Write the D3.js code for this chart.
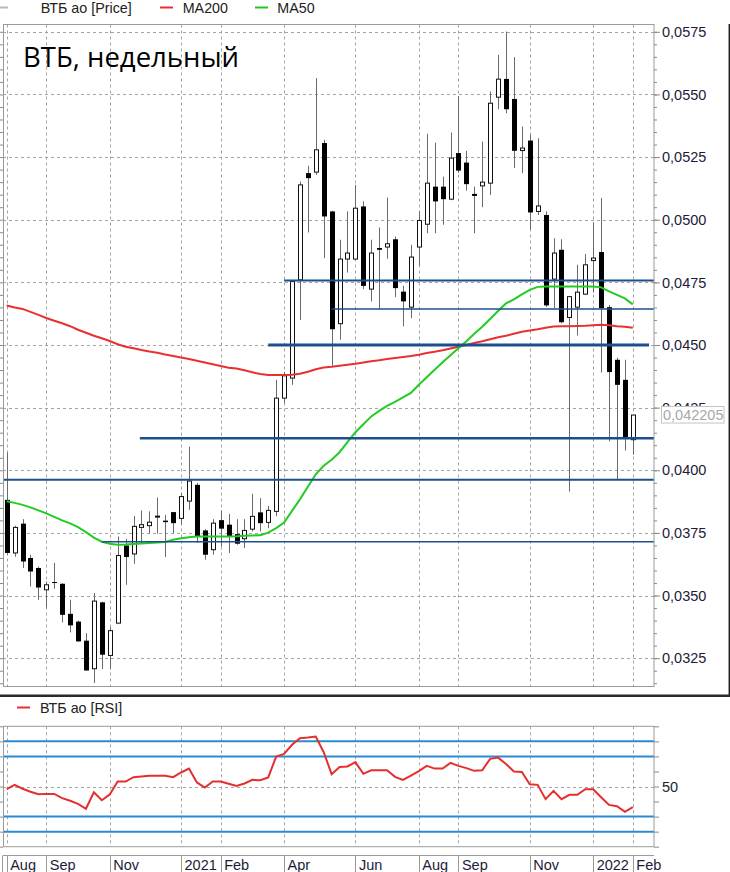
<!DOCTYPE html>
<html>
<head>
<meta charset="utf-8">
<script src="https://cdn.jsdelivr.net/npm/d3@7"></script>
<style>
  html, body { margin: 0; padding: 0; background: #fff; overflow: hidden; }
  svg { display: block; font-family: "Liberation Sans", Arial, sans-serif; }
</style>
</head>
<body>
<script>
// weekly candles, Aug 2020 .. Feb 2022
const opens = [
  0.03882, 0.03670, 0.03787, 0.03650, 0.03610, 0.03523, 0.03554, 0.03547, 0.03427, 0.03396,
  0.03320, 0.03208, 0.03473, 0.03261, 0.03390, 0.03700, 0.03666, 0.03772, 0.03779, 0.03814,
  0.03799, 0.03833, 0.03808, 0.03877, 0.03942, 0.03760, 0.03683, 0.03801, 0.03783, 0.03745,
  0.03727, 0.03765, 0.03832, 0.03792, 0.03836, 0.04288, 0.04368, 0.04760, 0.05186, 0.05190,
  0.05306, 0.05033, 0.04585, 0.04843, 0.04843, 0.05053, 0.04723, 0.04887, 0.04891, 0.04922,
  0.04713, 0.04651, 0.04891, 0.04982, 0.05132, 0.05132, 0.05082, 0.05266, 0.05228, 0.05103,
  0.05135, 0.05146, 0.05489, 0.05562, 0.05482, 0.05276, 0.05316, 0.05033, 0.05019, 0.04763,
  0.04880, 0.04610, 0.04651, 0.04703, 0.04837, 0.04871, 0.04651, 0.04441, 0.04361, 0.04122
];
const highs = [
  0.04071, 0.03779, 0.03805, 0.03663, 0.03616, 0.03556, 0.03630, 0.03549, 0.03483, 0.03400,
  0.03350, 0.03510, 0.03475, 0.03374, 0.03736, 0.03727, 0.03818, 0.03840, 0.03836, 0.03891,
  0.03822, 0.03834, 0.03909, 0.04094, 0.03949, 0.03765, 0.03805, 0.03840, 0.03826, 0.03805,
  0.03805, 0.03906, 0.03889, 0.03858, 0.04361, 0.04393, 0.04756, 0.05152, 0.05215, 0.05565,
  0.05319, 0.05036, 0.04920, 0.05033, 0.05139, 0.05073, 0.04920, 0.04969, 0.05088, 0.04933,
  0.04736, 0.04900, 0.05033, 0.05343, 0.05308, 0.05172, 0.05348, 0.05494, 0.05275, 0.05132,
  0.05312, 0.05511, 0.05658, 0.05751, 0.05649, 0.05372, 0.05339, 0.05325, 0.05033, 0.04926,
  0.04922, 0.04693, 0.04820, 0.04863, 0.04989, 0.05086, 0.04660, 0.04449, 0.04441, 0.04221
];
const lows = [
  0.03663, 0.03655, 0.03610, 0.03536, 0.03483, 0.03453, 0.03527, 0.03393, 0.03353, 0.03316,
  0.03200, 0.03151, 0.03207, 0.03207, 0.03388, 0.03543, 0.03627, 0.03710, 0.03747, 0.03747,
  0.03654, 0.03749, 0.03783, 0.03842, 0.03710, 0.03643, 0.03663, 0.03696, 0.03670, 0.03703,
  0.03690, 0.03756, 0.03756, 0.03769, 0.03816, 0.04268, 0.04341, 0.04600, 0.04949, 0.05179,
  0.04847, 0.04417, 0.04521, 0.04789, 0.04840, 0.04723, 0.04674, 0.04643, 0.04844, 0.04691,
  0.04574, 0.04607, 0.04816, 0.04946, 0.04946, 0.04980, 0.05078, 0.05187, 0.05116, 0.04946,
  0.05050, 0.05099, 0.05441, 0.05425, 0.05206, 0.05186, 0.04960, 0.05019, 0.04652, 0.04647,
  0.04587, 0.03915, 0.04538, 0.04700, 0.04709, 0.04390, 0.04115, 0.03965, 0.04079, 0.04062
];
const closes = [
  0.03670, 0.03772, 0.03636, 0.03596, 0.03532, 0.03543, 0.03550, 0.03423, 0.03381, 0.03317,
  0.03201, 0.03478, 0.03264, 0.03360, 0.03660, 0.03654, 0.03776, 0.03783, 0.03793, 0.03817,
  0.03793, 0.03789, 0.03895, 0.03957, 0.03736, 0.03663, 0.03789, 0.03767, 0.03736, 0.03707,
  0.03760, 0.03816, 0.03789, 0.03840, 0.04288, 0.04377, 0.04753, 0.05139, 0.05166, 0.05279,
  0.05013, 0.04563, 0.04843, 0.04867, 0.05046, 0.04736, 0.04867, 0.04880, 0.04904, 0.04727,
  0.04674, 0.04851, 0.04997, 0.05146, 0.05073, 0.05082, 0.05246, 0.05196, 0.05142, 0.05095,
  0.05150, 0.05465, 0.05561, 0.05441, 0.05275, 0.05286, 0.05029, 0.05055, 0.04658, 0.04867,
  0.04591, 0.04693, 0.04711, 0.04820, 0.04847, 0.04647, 0.04392, 0.04341, 0.04128, 0.042205
];
const ma200 = [
  0.04658, 0.04650, 0.04644, 0.04632, 0.04620, 0.04608, 0.04597, 0.04587, 0.04575, 0.04561,
  0.04549, 0.04537, 0.04527, 0.04516, 0.04503, 0.04493, 0.04487, 0.04480, 0.04474, 0.04469,
  0.04462, 0.04456, 0.04450, 0.04444, 0.04437, 0.04430, 0.04423, 0.04416, 0.04409, 0.04406,
  0.04399, 0.04391, 0.04384, 0.04380, 0.04380, 0.04380, 0.04381, 0.04385, 0.04393, 0.04403,
  0.04410, 0.04413, 0.04417, 0.04421, 0.04425, 0.04430, 0.04435, 0.04439, 0.04444, 0.04448,
  0.04452, 0.04456, 0.04461, 0.04468, 0.04473, 0.04479, 0.04486, 0.04493, 0.04500, 0.04508,
  0.04515, 0.04523, 0.04531, 0.04537, 0.04545, 0.04553, 0.04558, 0.04563, 0.04569, 0.04574,
  0.04575, 0.04575, 0.04576, 0.04577, 0.04579, 0.04581, 0.04579, 0.04575, 0.04573, 0.04569
];
const ma50 = [
  0.03876, 0.03870, 0.03862, 0.03852, 0.03840, 0.03828, 0.03814, 0.03800, 0.03788, 0.03773,
  0.03753, 0.03731, 0.03715, 0.03707, 0.03703, 0.03704, 0.03706, 0.03708, 0.03710, 0.03712,
  0.03714, 0.03723, 0.03729, 0.03733, 0.03736, 0.03736, 0.03736, 0.03736, 0.03736, 0.03737,
  0.03739, 0.03740, 0.03741, 0.03751, 0.03769, 0.03791, 0.03838, 0.03884, 0.03934, 0.03984,
  0.04018, 0.04042, 0.04072, 0.04112, 0.04152, 0.04184, 0.04215, 0.04237, 0.04257, 0.04273,
  0.04291, 0.04309, 0.04341, 0.04371, 0.04401, 0.04431, 0.04459, 0.04487, 0.04515, 0.04545,
  0.04573, 0.04604, 0.04636, 0.04666, 0.04682, 0.04702, 0.04720, 0.04732, 0.04733, 0.04733,
  0.04733, 0.04733, 0.04733, 0.04733, 0.04733, 0.04730, 0.04714, 0.04700, 0.04686, 0.04662
];
const rsi = [
  48.2, 51.1, 48.5, 46.5, 44.9, 45.1, 45.1, 42.3, 40.5, 38.5,
  35.2, 46.2, 40.9, 44.7, 53.3, 53.3, 56.2, 56.6, 57.1, 57.1,
  57.1, 56.2, 59.3, 61.9, 52.7, 49.3, 53.3, 53.3, 51.8, 50.4,
  52.0, 54.4, 54.2, 56.0, 69.9, 71.7, 77.7, 82.1, 82.5, 83.2,
  72.8, 58.2, 63.0, 63.3, 66.2, 58.4, 60.8, 60.8, 60.8, 56.4,
  54.4, 57.3, 60.2, 63.7, 61.9, 61.9, 65.7, 63.7, 62.2, 60.4,
  60.8, 68.4, 69.2, 65.0, 60.0, 59.7, 51.5, 51.1, 41.6, 47.1,
  41.6, 44.5, 44.5, 48.2, 48.2, 42.9, 37.8, 36.9, 33.2, 36.3
];

// horizontal levels drawn on the price chart (price, from candle, to candle)
const levels = [0.04757, 0.04644, 0.04500, 0.04128, 0.03962, 0.03715];
const levelFrom = [35, 41, 33, 16.8, -1, 12];
const levelTo = [82, 82, 81.05, 82, 82, 82];

const priceTicks = [0.0325, 0.0350, 0.0375, 0.0400, 0.0425, 0.0450, 0.0475, 0.0500, 0.0525, 0.0550, 0.0575];
const rsiTicks = [10, 20, 30, 40, 50, 60, 70, 80, 90];
const rsiLevels = [80, 70, 30, 20];
const monthIdx = [0, 5, 13, 22, 27, 35, 44, 52, 57, 66, 74, 79];
const monthLabels = ['Aug', 'Sep', 'Nov', '2021', 'Feb', 'Apr', 'Jun', 'Aug', 'Sep', 'Nov', '2022', 'Feb'];
const lastPrice = 0.042205;

const W = 730, H = 872;
const main = { left: 3, right: 654, top: 24.5, bottom: 686.5 };
const sub = { left: 3, right: 654, top: 726.3, bottom: 846.7 };

const x = d3.scaleLinear().domain([0, 79]).range([6.7, 632.8]);
const y = d3.scaleLinear().domain([0.0325, 0.0575]).range([658.2, 31.8]);
const yr = d3.scaleLinear().domain([10, 90]).range([846.7, 726.3]);

const gridColor = '#a4a4a4';
const textColor = '#1c1c38';
const crisp = v => Math.round(v) + 0.5;
const comma = d => d3.format('.4f')(d).replace('.', ',');

const svg = d3.select('body').append('svg').attr('width', W).attr('height', H);

svg.append('defs').append('clipPath').attr('id', 'clipMain')
  .append('rect').attr('x', main.left).attr('y', main.top)
  .attr('width', main.right - main.left).attr('height', main.bottom - main.top);
svg.select('defs').append('clipPath').attr('id', 'clipSub')
  .append('rect').attr('x', sub.left).attr('y', sub.top)
  .attr('width', sub.right - sub.left).attr('height', sub.bottom - sub.top);

// ---- legend + title
const legend = svg.append('g').attr('font-size', '14.3px').attr('fill', '#222');
const legendItems = [
  { x1: -4, x2: 8, tx: 40.7, color: '#b8b8b8', label: 'ВТБ ао [Price]' },
  { x1: 160, x2: 173, tx: 182.7, color: '#e8302f', label: 'MA200' },
  { x1: 255, x2: 268, tx: 277.3, color: '#22c422', label: 'MA50' }
];
legend.selectAll('line').data(legendItems).join('line')
  .attr('x1', d => d.x1).attr('x2', d => d.x2).attr('y1', 7.5).attr('y2', 7.5)
  .attr('stroke', d => d.color).attr('stroke-width', 2);
legend.selectAll('text').data(legendItems).join('text')
  .attr('x', d => d.tx).attr('y', 12.5).text(d => d.label);

// ---- main panel grid
const grid = svg.append('g').attr('stroke', gridColor).attr('stroke-dasharray', '3,3');
grid.selectAll('line.h').data(priceTicks).join('line').attr('class', 'h')
  .attr('x1', main.left).attr('x2', main.right)
  .attr('y1', d => crisp(y(d))).attr('y2', d => crisp(y(d)));
grid.selectAll('line.v').data(monthIdx).join('line').attr('class', 'v')
  .attr('x1', d => crisp(x(d))).attr('x2', d => crisp(x(d)))
  .attr('y1', main.top).attr('y2', main.bottom);

svg.append('text').attr('x', 23).attr('y', 67)
  .attr('font-family', '"Open Sans", "Noto Sans", sans-serif').attr('font-size', '27.5px')
  .attr('fill', '#000').text('ВТБ, недельный');

// ---- candles
const idx = d3.range(opens.length);
const candles = svg.append('g').attr('clip-path', 'url(#clipMain)');
candles.selectAll('line.wick').data(idx).join('line').attr('class', 'wick')
  .attr('x1', i => crisp(x(i))).attr('x2', i => crisp(x(i)))
  .attr('y1', i => y(highs[i])).attr('y2', i => y(lows[i]))
  .attr('stroke', '#6a6a6a').attr('stroke-width', 1);
candles.selectAll('rect.body').data(idx).join('rect').attr('class', 'body')
  .each(function (i) {
    const cx = Math.round(x(i));
    const top = y(Math.max(opens[i], closes[i]));
    const h = Math.max(1, Math.abs(y(opens[i]) - y(closes[i])));
    const sel = d3.select(this);
    if (closes[i] >= opens[i]) {
      sel.attr('x', cx - 1.5).attr('width', 4).attr('y', top).attr('height', h)
        .attr('fill', '#fff').attr('stroke', '#111').attr('stroke-width', 1);
    } else {
      sel.attr('x', cx - 2).attr('width', 5).attr('y', top).attr('height', h)
        .attr('fill', '#000');
    }
  });

// ---- moving averages
const maLine = d3.line().x((d, i) => x(i)).y(d => y(d));
const maG = svg.append('g').attr('clip-path', 'url(#clipMain)').attr('fill', 'none').attr('stroke-width', 2);
maG.append('path').datum(ma200).attr('d', maLine).attr('stroke', '#e8302f');
maG.append('path').datum(ma50).attr('d', maLine).attr('stroke', '#22cc22');

// ---- levels
const levelWidths = [2, 1.5, 3, 2.5, 2, 1.5];
svg.append('g').attr('clip-path', 'url(#clipMain)')
  .selectAll('line').data(levels).join('line')
  .attr('x1', (d, k) => x(levelFrom[k])).attr('x2', (d, k) => x(levelTo[k]))
  .attr('y1', d => y(d)).attr('y2', d => y(d))
  .attr('stroke', '#1b4f8e').attr('stroke-width', (d, k) => levelWidths[k]);

// ---- border + axes of main panel
svg.append('rect').attr('x', main.left + 0.5).attr('y', main.top)
  .attr('width', main.right - main.left - 0.5).attr('height', main.bottom - main.top)
  .attr('fill', 'none').attr('stroke', '#9a9a9a');

const minorTicks = d3.range(63, 116).map(k => k * 0.0005);
const styleAxis = g => {
  g.select('.domain').remove();
  g.selectAll('line').attr('stroke', '#8a8a8a');
  g.selectAll('text').attr('font-family', '"Liberation Sans", Arial, sans-serif')
    .attr('font-size', '14.5px').attr('fill', textColor);
};
svg.append('g').attr('transform', `translate(${main.right},0)`)
  .call(d3.axisRight(y).tickValues(minorTicks).tickSize(3).tickFormat(''))
  .call(styleAxis);
svg.append('g').attr('transform', `translate(${main.left},0)`)
  .call(d3.axisLeft(y).tickValues(minorTicks).tickSize(3).tickFormat(''))
  .call(styleAxis);
svg.append('g').attr('transform', `translate(${main.right},0)`)
  .call(d3.axisRight(y).tickValues(priceTicks).tickSize(6).tickPadding(2).tickFormat(comma))
  .call(styleAxis);

// last price box
const lp = svg.append('g');
lp.append('rect').attr('x', 661.5).attr('y', y(lastPrice) - 8.5)
  .attr('width', 62.5).attr('height', 16.5)
  .attr('fill', '#fff').attr('stroke', '#c4c4c4');
lp.append('text').attr('x', 663).attr('y', y(lastPrice) + 5)
  .attr('font-size', '14.5px').attr('fill', '#a8a8a8')
  .text(d3.format('.6f')(lastPrice).replace('.', ','));

// panel separators
svg.append('line').attr('x1', 729.3).attr('x2', 729.3).attr('y1', 24).attr('y2', 695)
  .attr('stroke', '#222').attr('stroke-width', 1.5);
svg.append('line').attr('x1', 0).attr('x2', W).attr('y1', 695.8).attr('y2', 695.8)
  .attr('stroke', '#2a2a2a').attr('stroke-width', 2.4);

// ---- RSI panel
const rsiLegend = svg.append('g').attr('font-size', '14.3px').attr('fill', '#222');
rsiLegend.append('line').attr('x1', 17).attr('x2', 30).attr('y1', 707.5).attr('y2', 707.5)
  .attr('stroke', '#e8302f').attr('stroke-width', 2);
rsiLegend.append('text').attr('x', 40).attr('y', 712.5).text('ВТБ ао [RSI]');

const rgrid = svg.append('g').attr('stroke', gridColor).attr('stroke-dasharray', '3,3');
rgrid.append('line').attr('x1', sub.left).attr('x2', sub.right)
  .attr('y1', crisp(yr(50))).attr('y2', crisp(yr(50)));
rgrid.selectAll('line.v').data(monthIdx).join('line').attr('class', 'v')
  .attr('x1', d => crisp(x(d))).attr('x2', d => crisp(x(d)))
  .attr('y1', sub.top).attr('y2', sub.bottom);

svg.append('g').selectAll('line').data(rsiLevels).join('line')
  .attr('x1', sub.left).attr('x2', sub.right)
  .attr('y1', d => yr(d)).attr('y2', d => yr(d))
  .attr('stroke', '#2a8bd2').attr('stroke-width', 2);

svg.append('path').datum(rsi).attr('clip-path', 'url(#clipSub)')
  .attr('d', d3.line().x((d, i) => x(i)).y(d => yr(d)))
  .attr('fill', 'none').attr('stroke', '#e3302f').attr('stroke-width', 2);

svg.append('rect').attr('x', sub.left + 0.5).attr('y', sub.top)
  .attr('width', sub.right - sub.left - 0.5).attr('height', sub.bottom - sub.top)
  .attr('fill', 'none').attr('stroke', '#9a9a9a');

svg.append('g').attr('transform', `translate(${sub.right},0)`)
  .call(d3.axisRight(yr).tickValues(rsiTicks).tickSize(5).tickPadding(3)
    .tickFormat(d => (d === 50 ? '50' : '')))
  .call(styleAxis);
svg.append('g').attr('transform', `translate(${sub.left},0)`)
  .call(d3.axisLeft(yr).tickValues(rsiTicks).tickSize(3).tickFormat(''))
  .call(styleAxis);

// ---- time axis band
const band = svg.append('g');
band.append('line').attr('x1', sub.left).attr('x2', sub.right).attr('y1', 855.5).attr('y2', 855.5)
  .attr('stroke', '#9a9a9a');
band.append('line').attr('x1', 2.5).attr('x2', 2.5).attr('y1', 855.5).attr('y2', H)
  .attr('stroke', '#9a9a9a');
band.selectAll('line.sep').data(monthIdx).join('line').attr('class', 'sep')
  .attr('x1', d => crisp(x(d))).attr('x2', d => crisp(x(d)))
  .attr('y1', 855.5).attr('y2', H).attr('stroke', '#9a9a9a');
band.selectAll('text').data(monthIdx).join('text')
  .attr('x', d => x(d) + 3.5).attr('y', 870)
  .attr('font-size', '14.5px').attr('fill', textColor)
  .text((d, k) => monthLabels[k]);
</script>
</body>
</html>
